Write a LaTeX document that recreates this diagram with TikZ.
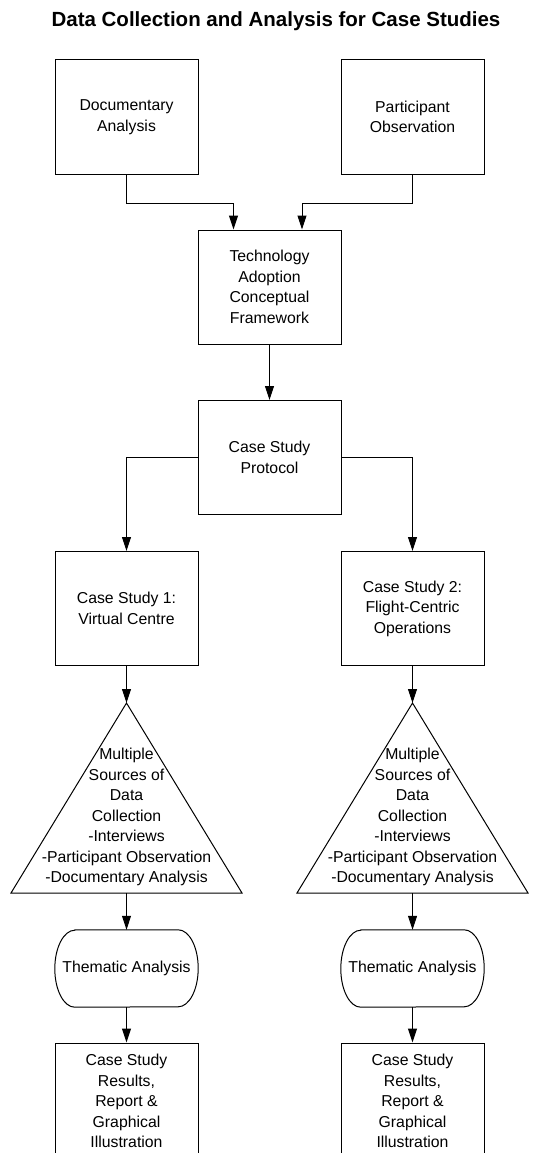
\documentclass[tikz,border=0pt]{standalone}
\usepackage{fontspec}
\setmainfont{Liberation Sans}
\usetikzlibrary{arrows.meta,positioning}

\tikzset{
  procbox/.style={draw, line width=1pt, minimum width=143pt, minimum height=114pt,
    align=center, inner sep=0pt, font=\fontsize{15.8}{20.5}\selectfont},
  termbox/.style={minimum width=143pt, minimum height=77pt, align=center,
    inner sep=0pt, font=\fontsize{15.8}{20.5}\selectfont},
  plaintext/.style={align=center, inner sep=0pt, font=\fontsize{15.8}{20.5}\selectfont},
  flowline/.style={line width=1pt, -{Triangle[length=14pt,width=9pt]}},
  shapeline/.style={line width=1pt, line join=miter}
}

% stadium outline round a termbox node
\newcommand{\termoutline}[1]{%
  \draw[shapeline] ([xshift=20pt]#1.north west) -- ([xshift=-20pt]#1.north east)
    arc[start angle=90, end angle=-90, x radius=20pt, y radius=38.5pt]
    -- ([xshift=20pt]#1.south west)
    arc[start angle=270, end angle=90, x radius=20pt, y radius=38.5pt] -- cycle;}

\begin{document}
\begin{tikzpicture}[x=1pt, y=-1pt]
  \clip (0,0) rectangle (553,1153);
  \useasboundingbox (0,0) rectangle (553,1153);

  % Title
  \node[font=\fontsize{20.5}{24}\selectfont\bfseries] (title) at (276,21) {Data Collection and Analysis for Case Studies};

  % Sources and framework
  \node[procbox] (docanalysis) at (126.5,117) {Documentary\\Analysis};
  \node[procbox] (partobs) at (412.5,117) {Participant\\Observation};
  \node[procbox] (framework) at (269.5,287) {Technology\\Adoption\\Conceptual\\Framework};
  \node[procbox] (protocol) at (269.5,457.5) {Case Study\\Protocol};

  \draw[flowline] (docanalysis.south) -- ++(0,29) -| ([xshift=-36pt]framework.north);
  \draw[flowline] (partobs.south) -- ++(0,29) -| ([xshift=32.5pt]framework.north);
  \draw[flowline] (framework) -- (protocol);

  % Case studies
  \node[procbox] (caseone) at (126.5,608.5) {Case Study 1:\\Virtual Centre};
  \node[procbox] (casetwo) at (412.5,608.5) {Case Study 2:\\Flight-Centric\\Operations};

  \draw[flowline] (protocol.west) -| (caseone.north);
  \draw[flowline] (protocol.east) -| (casetwo.north);

  % Data collection triangles
  \coordinate (apexone) at (126.5,703);
  \coordinate (baseone) at (126.5,893);
  \draw[shapeline] (apexone) -- (11,893) -- (242,893) -- cycle;
  \node[plaintext] (sourcesone) at (126.5,817) {Multiple\\Sources of\\Data\\Collection\\-Interviews\\-Participant Observation\\-Documentary Analysis};

  \coordinate (apextwo) at (412.5,703);
  \coordinate (basetwo) at (412.5,893);
  \draw[shapeline] (apextwo) -- (297,893) -- (528,893) -- cycle;
  \node[plaintext] (sourcestwo) at (412.5,817) {Multiple\\Sources of\\Data\\Collection\\-Interviews\\-Participant Observation\\-Documentary Analysis};

  \draw[flowline] (caseone.south) -- (apexone);
  \draw[flowline] (casetwo.south) -- (apextwo);

  % Analysis and results
  \node[termbox] (thematicone) at (126.5,968.5) {Thematic Analysis};
  \node[termbox] (thematictwo) at (412.5,968.5) {Thematic Analysis};
  \termoutline{thematicone}
  \termoutline{thematictwo}
  \node[procbox, minimum height=116pt] (resultsone) at (126.5,1101) {Case Study\\Results,\\Report \&\\Graphical\\Illustration};
  \node[procbox, minimum height=116pt] (resultstwo) at (412.5,1101) {Case Study\\Results,\\Report \&\\Graphical\\Illustration};

  \draw[flowline] (baseone) -- (thematicone);
  \draw[flowline] (basetwo) -- (thematictwo);
  \draw[flowline] (thematicone) -- (resultsone);
  \draw[flowline] (thematictwo) -- (resultstwo);
\end{tikzpicture}
\end{document}
